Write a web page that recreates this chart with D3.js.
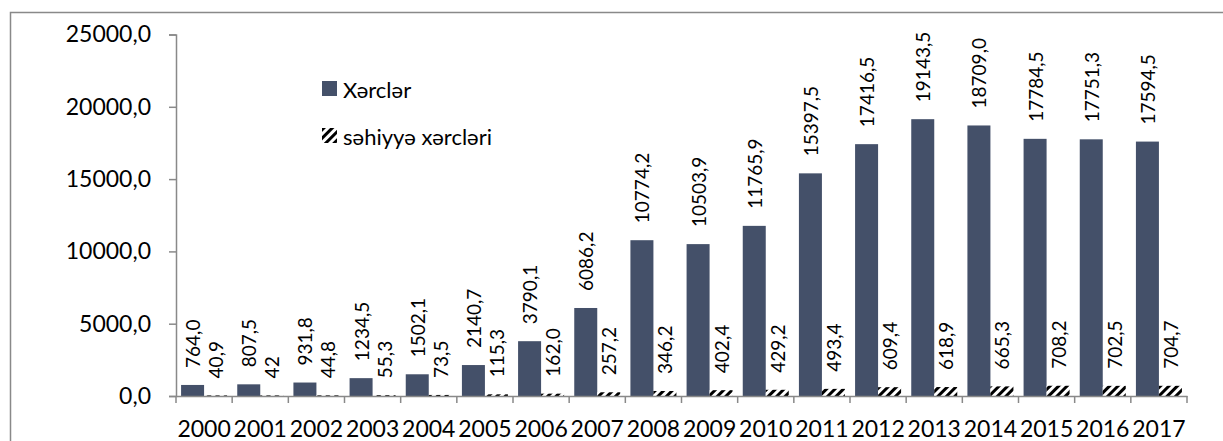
<!DOCTYPE html>
<html>
<head>
<meta charset="utf-8">
<script src="https://cdn.jsdelivr.net/npm/d3@7"></script>
<style>
  html, body { margin: 0; padding: 0; background: #fff; }
  svg { display: block; font-family: Lato, "Open Sans", sans-serif; }
</style>
</head>
<body>
<svg id="chart" width="1223" height="441"></svg>
<script>
const years = ["2000","2001","2002","2003","2004","2005","2006","2007","2008","2009","2010","2011","2012","2013","2014","2015","2016","2017"];
const seriesNames = ["Xərclər", "səhiyyə xərcləri"];
const expenses = [764.0, 807.5, 931.8, 1234.5, 1502.1, 2140.7, 3790.1, 6086.2, 10774.2, 10503.9, 11765.9, 15397.5, 17416.5, 19143.5, 18709.0, 17784.5, 17751.3, 17594.5];
const expenseLabels = ["764,0","807,5","931,8","1234,5","1502,1","2140,7","3790,1","6086,2","10774,2","10503,9","11765,9","15397,5","17416,5","19143,5","18709,0","17784,5","17751,3","17594,5"];
const health = [40.9, 42, 44.8, 55.3, 73.5, 115.3, 162.0, 257.2, 346.2, 402.4, 429.2, 493.4, 609.4, 618.9, 665.3, 708.2, 702.5, 704.7];
const healthLabels = ["40,9","42","44,8","55,3","73,5","115,3","162,0","257,2","346,2","402,4","429,2","493,4","609,4","618,9","665,3","708,2","702,5","704,7"];
const yTicks = [0, 5000, 10000, 15000, 20000, 25000];

const svg = d3.select("#chart");
const plotLeft = 176, plotRight = 1187, plotTop = 34.5, plotBottom = 396;

// outer chart border
svg.append("rect").attr("x", 10.5).attr("y", 12.5).attr("width", 1400).attr("height", 600)
  .attr("fill", "none").attr("stroke", "#898989").attr("stroke-width", 1.5);

const defs = svg.append("defs");
const pat = defs.append("pattern").attr("id", "hatch").attr("patternUnits", "userSpaceOnUse")
  .attr("width", 6).attr("height", 6).attr("patternTransform", "rotate(45)");
pat.append("rect").attr("width", 6).attr("height", 6).attr("fill", "#fff");
pat.append("rect").attr("x", 0).attr("y", 0).attr("width", 3).attr("height", 6).attr("fill", "#000");

const x = d3.scaleBand().domain(years).range([plotLeft, plotRight]).padding(0);
const xs = d3.scaleBand().domain([0, 1]).range([0, x.bandwidth()]).paddingInner(0).paddingOuter(0.221);
const y = d3.scaleLinear().domain([0, 25000]).range([plotBottom, plotTop]);

// y axis
const yAxis = svg.append("g").attr("transform", `translate(${plotLeft},0)`)
  .call(d3.axisLeft(y).tickValues(yTicks).tickSize(7).tickPadding(18)
    .tickFormat(d => d3.format(".1f")(d).replace(".", ",")));
yAxis.select(".domain").attr("stroke", "#898989").attr("stroke-width", 1.5);
yAxis.selectAll(".tick line").attr("stroke", "#898989").attr("stroke-width", 1.5);
yAxis.selectAll(".tick text").attr("font-size", 23).attr("fill", "#000").attr("font-family", "Lato");

const colors = ["#445069", "url(#hatch)"];
const data = [expenses, health];
const labels = [expenseLabels, healthLabels];

data.forEach((vals, si) => {
  const g = svg.append("g");
  g.selectAll("rect").data(vals).join("rect")
    .attr("x", (d, i) => x(years[i]) + xs(si))
    .attr("width", xs.bandwidth())
    .attr("y", d => y(d))
    .attr("height", d => y(0) - y(d))
    .attr("fill", colors[si]);
  g.selectAll("text").data(vals).join("text")
    .attr("transform", (d, i) => `translate(${x(years[i]) + xs(si) + xs.bandwidth() / 2},${y(d) - 17}) rotate(-90)`)
    .attr("text-anchor", "start")
    .attr("dominant-baseline", "central")
    .attr("font-size", 19)
    .attr("fill", "#000")
    .text((d, i) => labels[si][i]);
});

// x axis
const xAxis = svg.append("g").attr("transform", `translate(0,${plotBottom})`)
  .call(d3.axisBottom(x).tickSize(0));
xAxis.select(".domain").attr("stroke", "#898989").attr("stroke-width", 1.5);
xAxis.selectAll(".tick text").attr("y", 41).attr("dy", 0)
  .attr("font-size", 23).attr("fill", "#000").attr("font-family", "Lato");
// category boundary ticks
const bounds = years.map(d => x(d)).concat([plotRight]);
svg.append("g").selectAll("line").data(bounds).join("line")
  .attr("x1", d => d).attr("x2", d => d).attr("y1", plotBottom).attr("y2", plotBottom + 7)
  .attr("stroke", "#898989").attr("stroke-width", 1.5);

// legend
const legend = svg.append("g");
const legendY = [81, 128];
seriesNames.forEach((name, i) => {
  legend.append("rect").attr("x", 322).attr("y", legendY[i]).attr("width", 15).attr("height", 15)
    .attr("fill", colors[i]);
  legend.append("text").attr("x", 343).attr("y", legendY[i] + 8)
    .attr("dominant-baseline", "central").attr("font-size", 22).attr("fill", "#000").text(name);
});
</script>
</body>
</html>
